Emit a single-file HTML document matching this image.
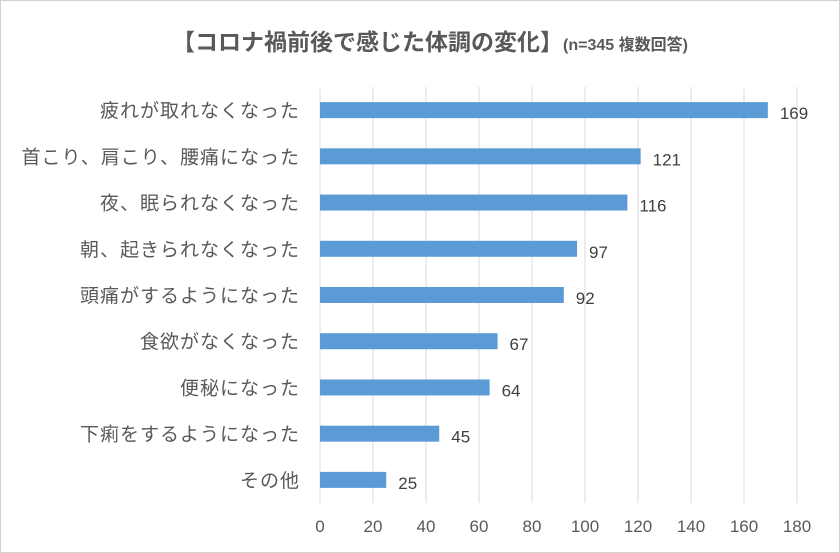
<!DOCTYPE html>
<html><head><meta charset="utf-8"><style>
body{margin:0;background:#fff;}
svg{display:block;font-family:"Liberation Sans","Noto Sans CJK JP",sans-serif;}
</style></head><body>
<svg width="840" height="553" viewBox="0 0 840 553">
<rect x="0.5" y="0.5" width="839" height="552" fill="#fff" stroke="#d0d0d0"/>
<text x="430" y="50" text-anchor="middle" fill="#595959" font-weight="bold"><tspan font-size="23">【コロナ禍前後で感じた体調の変化】</tspan><tspan font-size="16">(n=345 複数回答)</tspan></text>
<g id="grid"></g><g id="bars"></g><g id="labels"></g>
</svg>
<script>
const categories=["疲れが取れなくなった","首こり、肩こり、腰痛になった","夜、眠られなくなった","朝、起きられなくなった","頭痛がするようになった","食欲がなくなった","便秘になった","下痢をするようになった","その他"];
const values=[169,121,116,97,92,67,64,45,25];
const ticks=[0,20,40,60,80,100,120,140,160,180];
const ns="http://www.w3.org/2000/svg";
const plotX0=320,plotX1=797,plotTop=87,plotBottom=503;
const xs=v=>plotX0+(v/180)*(plotX1-plotX0);
const step=(plotBottom-plotTop)/categories.length;
const yc=i=>plotTop+step*(i+0.5);
function mk(t,a,p){const e=document.createElementNS(ns,t);for(const k in a)e.setAttribute(k,a[k]);document.getElementById(p).appendChild(e);return e;}
ticks.forEach(t=>{
 const l=mk('line',{x1:xs(t),x2:xs(t),y1:plotTop,y2:plotBottom,stroke:'#d9d9d9','stroke-width':1},'grid');
 
 
 const tx=mk('text',{x:xs(t),y:532,'text-anchor':'middle','font-size':17,fill:'#595959'},'labels');
 tx.textContent=t;
 
 
});
categories.forEach((c,i)=>{
 const y=yc(i);
 const r=mk('rect',{x:plotX0,y:y-8,width:xs(values[i])-plotX0,height:16,fill:'#5b9bd5'},'bars');
 
 
 const lt=mk('text',{x:300,y:y+7,'text-anchor':'end','font-size':19,'letter-spacing':1,fill:'#595959'},'labels');
 lt.textContent=c;
 
 
 const vt=mk('text',{x:xs(values[i])+12,y:y+9,'font-size':17,fill:'#404040'},'labels');
 vt.textContent=values[i];
 
 
});
</script>
</body></html>
